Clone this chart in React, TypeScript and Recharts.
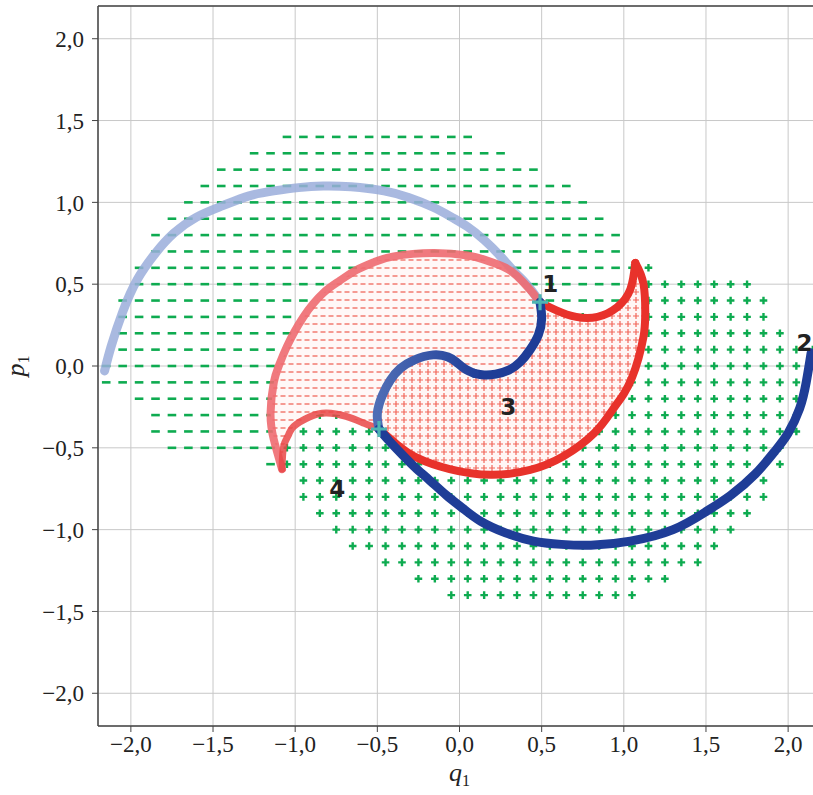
import React from 'react';
import { ComposedChart, XAxis, YAxis, CartesianGrid, Scatter, Line, Area, ReferenceLine, Label } from 'recharts';

const xTicks = [-2, -1.5, -1, -0.5, 0, 0.5, 1, 1.5, 2];
const yTicks = [-2, -1.5, -1, -0.5, 0, 0.5, 1, 1.5, 2];

// green "−" grid, one row per p: [p, first q, last q], step 0.1
const dashRows = [
  [1.4, -1.05, 0.05], [1.3, -1.25, 0.25], [1.2, -1.45, 0.45], [1.1, -1.55, 0.65],
  [1.0, -1.65, 0.75], [0.9, -1.75, 0.85], [0.8, -1.85, 0.95], [0.7, -1.85, 0.95],
  [0.6, -1.95, 0.95], [0.5, -1.95, 0.95], [0.4, -2.05, 0.95], [0.3, -2.05, 0.45],
  [0.2, -2.05, 0.45], [0.1, -2.05, 0.35], [0.0, -2.15, 0.0], [-0.1, -2.15, -0.55],
  [-0.2, -1.95, -0.55], [-0.3, -1.85, -1.15], [-0.4, -1.85, -1.15], [-0.5, -1.75, -1.15],
  [-0.6, -1.15, -1.15],
];

// green "+" grid
const plusRows = [
  [0.6, 1.05, 1.15], [0.5, 1.05, 1.75], [0.4, 1.05, 1.85], [0.3, 0.55, 1.85],
  [0.2, 0.55, 1.95], [0.1, 0.45, 2.15], [0.0, 0.05, 2.15], [-0.1, -0.45, 2.05],
  [-0.2, -0.45, 2.05], [-0.3, -1.05, 2.05], [-0.4, -1.05, 2.05], [-0.5, -1.05, 1.95],
  [-0.6, -1.05, 1.95], [-0.7, -0.95, 1.85], [-0.8, -0.95, 1.85], [-0.9, -0.85, 1.75],
  [-1.0, -0.75, 1.65], [-1.1, -0.65, 1.55], [-1.2, -0.45, 1.45], [-1.3, -0.25, 1.25],
  [-1.4, -0.05, 1.05],
];

// blue trajectory, split by shade
const blueFaint = [
  [-2.16, -0.03], [-2.12, 0.12], [-2.05, 0.33], [-1.96, 0.53], [-1.85, 0.69], [-1.74, 0.81],
  [-1.6, 0.91], [-1.44, 0.98], [-1.28, 1.04], [-1.13, 1.07], [-0.98, 1.09], [-0.83, 1.1],
  [-0.66, 1.095], [-0.46, 1.07], [-0.31, 1.03], [-0.16, 0.97], [-0.04, 0.905], [0.05, 0.85],
  [0.15, 0.77], [0.25, 0.67], [0.33, 0.58], [0.39, 0.52], [0.44, 0.46], [0.49, 0.39],
];
const blueLoopA = [
  [0.49, 0.39], [0.5, 0.29], [0.48, 0.19], [0.43, 0.1], [0.37, 0.025], [0.3, -0.025],
  [0.22, -0.05], [0.15, -0.055], [0.09, -0.045],
];
const blueLoopB = [
  [0.09, -0.045], [0.03, -0.015], [-0.02, 0.025], [-0.07, 0.055], [-0.16, 0.068], [-0.28, 0.035],
  [-0.36, -0.015], [-0.42, -0.085], [-0.47, -0.18], [-0.5, -0.29], [-0.49, -0.385],
];
const blueOuter = [
  [-0.49, -0.385], [-0.43, -0.455], [-0.35, -0.54], [-0.27, -0.62], [-0.18, -0.7], [-0.08, -0.79],
  [0.02, -0.87], [0.13, -0.95], [0.28, -1.02], [0.45, -1.07], [0.62, -1.09], [0.8, -1.095],
  [1.04, -1.07], [1.3, -1.0], [1.5, -0.89], [1.65, -0.79], [1.8, -0.66], [1.92, -0.52],
  [2.0, -0.41], [2.07, -0.26], [2.11, -0.1], [2.14, 0.08],
];

// red boundary of region 3, in order round the loop
const redTop = [
  [0.49, 0.39], [0.43, 0.465], [0.35, 0.55], [0.27, 0.605], [0.15, 0.65], [0.05, 0.675],
  [-0.16, 0.69], [-0.4, 0.67], [-0.52, 0.635], [-0.63, 0.585], [-0.73, 0.52], [-0.83, 0.445],
  [-0.95, 0.3], [-1.05, 0.12], [-1.1, 0.0], [-1.13, -0.1], [-1.15, -0.29], [-1.13, -0.45],
  [-1.08, -0.63],
];
const redLeft = [
  [-1.08, -0.63], [-1.07, -0.49], [-1.04, -0.42], [-1.01, -0.37], [-0.91, -0.31], [-0.81, -0.287],
  [-0.69, -0.308], [-0.58, -0.35], [-0.49, -0.385],
];
const redBottom = [
  [-0.49, -0.385], [-0.38, -0.48], [-0.26, -0.56], [-0.06, -0.63], [0.19, -0.665], [0.43, -0.635],
  [0.63, -0.553], [0.82, -0.41], [0.93, -0.27], [1.0, -0.17], [1.05, -0.07], [1.09, 0.05],
  [1.12, 0.18], [1.13, 0.3], [1.12, 0.5], [1.07, 0.63],
];
const redHook = [
  [1.07, 0.63], [1.04, 0.47], [0.96, 0.36], [0.84, 0.3], [0.71, 0.3], [0.59, 0.34], [0.49, 0.39],
];

// hatched parts of region 3: [q, low p, high p]
const dashHatch = [
  [-1.15, -0.29, -0.29], [-1.13, -0.45, -0.1], [-1.1, -0.54, 0.0], [-1.08, -0.6, 0.04],
  [-1.07, -0.49, 0.06], [-1.04, -0.42, 0.138], [-1.01, -0.37, 0.19], [-0.95, -0.33, 0.3],
  [-0.91, -0.31, 0.35], [-0.83, -0.29, 0.445], [-0.73, -0.3, 0.52], [-0.63, -0.33, 0.585],
  [-0.58, -0.35, 0.61], [-0.52, -0.37, 0.635], [-0.49, -0.385, 0.645], [-0.48, -0.2, 0.648],
  [-0.47, -0.18, 0.65], [-0.42, -0.08, 0.66], [-0.36, -0.01, 0.667], [-0.28, 0.04, 0.68],
  [-0.16, 0.072, 0.69], [-0.07, 0.06, 0.685], [-0.02, 0.025, 0.68], [0.03, -0.015, 0.677],
  [0.09, -0.045, 0.665], [0.15, -0.055, 0.65], [0.22, -0.05, 0.625], [0.3, -0.025, 0.585],
  [0.37, 0.025, 0.535], [0.43, 0.1, 0.465], [0.48, 0.19, 0.41], [0.49, 0.39, 0.39],
];
const plusHatch = [
  [-0.49, -0.385, -0.385], [-0.47, -0.4, -0.18], [-0.42, -0.445, -0.08], [-0.36, -0.495, -0.01],
  [-0.28, -0.547, 0.04], [-0.16, -0.597, 0.072], [-0.07, -0.627, 0.06], [-0.02, -0.637, 0.025],
  [0.03, -0.645, -0.015], [0.09, -0.655, -0.045], [0.15, -0.66, -0.055], [0.22, -0.662, -0.05],
  [0.3, -0.652, -0.025], [0.37, -0.643, 0.025], [0.43, -0.635, 0.1], [0.48, -0.615, 0.19],
  [0.5, -0.606, 0.385], [0.59, -0.569, 0.34], [0.71, -0.493, 0.3], [0.84, -0.385, 0.3],
  [0.93, -0.27, 0.345], [0.96, -0.227, 0.36], [1.0, -0.17, 0.415], [1.04, -0.09, 0.47],
  [1.07, -0.04, 0.6], [1.09, 0.05, 0.578], [1.12, 0.18, 0.5], [1.13, 0.3, 0.3],
];

const startPoints = [[0.49, 0.39], [-0.49, -0.385]];
const regionLabels = [
  { q: 0.552, p: 0.5, t: '1' },
  { q: 2.1, p: 0.14, t: '2' },
  { q: 0.296, p: -0.248, t: '3' },
  { q: -0.744, p: -0.751, t: '4' },
];

const GREEN = '#0eab50';

const toPts = (arr: number[][]) => arr.map(([q, p]) => ({ q, p }));
const toRange = (arr: number[][]) => arr.map(([q, lo, hi]) => ({ q, r: [lo, hi] }));

const loop = [...redTop, ...redLeft, ...redBottom, ...redHook];
const inside = (q: number, p: number) => {
  let c = false;
  for (let i = 0, j = loop.length - 1; i < loop.length; j = i++) {
    const [xi, yi] = loop[i];
    const [xj, yj] = loop[j];
    if (yi > p !== yj > p && q < ((xj - xi) * (p - yi)) / (yj - yi) + xi) c = !c;
  }
  return c;
};
const expandRows = (rows: number[][]) => {
  const out: { q: number; p: number }[] = [];
  rows.forEach(([p, a, b]) => {
    const n = Math.round((b - a) / 0.1);
    for (let i = 0; i <= n; i++) {
      const q = Math.round((a + i * 0.1) * 100) / 100;
      if (!inside(q, p)) out.push({ q, p });
    }
  });
  return out;
};
const dashPts = expandRows(dashRows);
const plusPts = expandRows(plusRows);

const fmt = (v: number) => (v < 0 ? '\u2212' : '') + Math.abs(v).toFixed(1).replace('.', ',');

const DashMark = (props: any) => (
  <line x1={props.cx - 4.3} x2={props.cx + 4.3} y1={props.cy} y2={props.cy} stroke={GREEN} strokeWidth={2.6} />
);
const PlusMark = (props: any) => (
  <path d={`M${props.cx - 3.8},${props.cy}H${props.cx + 3.8}M${props.cx},${props.cy - 3.8}V${props.cy + 3.8}`} stroke={GREEN} strokeWidth={2.4} fill="none" />
);
const StartMark = (props: any) => (
  <path d={`M${props.cx - 8},${props.cy}H${props.cx + 8}M${props.cx},${props.cy - 8}V${props.cy + 8}`} stroke="#4db5b3" strokeWidth={3.2} fill="none" />
);
const RegionText = (props: any) => (
  <text x={props.cx} y={props.cy} textAnchor="middle" dominantBaseline="central" fontFamily="DejaVu Sans" fontWeight="bold" fontSize={23} fill="#222">
    {props.payload.t}
  </text>
);

const tickStyle = { fontFamily: 'Liberation Serif', fontSize: 23, fill: '#222' };

const XTitle = (props: any) => {
  const { x, y, width } = props.viewBox;
  return (
    <text x={x + width / 2} y={y + 55} textAnchor="middle" fontFamily="Liberation Serif" fontSize={26} fill="#222">
      <tspan fontStyle="italic">q</tspan>
      <tspan fontSize={16} dy={5}>1</tspan>
    </text>
  );
};
const YTitle = (props: any) => {
  const { y, height } = props.viewBox;
  const cy = y + height / 2;
  return (
    <text transform={`translate(24,${cy}) rotate(-90)`} textAnchor="middle" fontFamily="Liberation Serif" fontSize={26} fill="#222">
      <tspan fontStyle="italic">p</tspan>
      <tspan fontSize={16} dy={5}>1</tspan>
    </text>
  );
};

const curve = (data: number[][], color: string, width: number, opacity = 1, key?: string) => (
  <Line
    key={key}
    data={toPts(data)}
    dataKey="p"
    type="natural"
    stroke={color}
    strokeWidth={width}
    strokeOpacity={opacity}
    strokeLinecap="round"
    dot={false}
    activeDot={false}
    isAnimationActive={false}
  />
);

export default function App() {
  return (
    <div style={{ position: 'absolute', left: 0, top: 0, width: 813, height: 795, overflow: 'hidden', background: '#fff' }}>
      <ComposedChart width={830} height={795} margin={{ top: 6, right: 9, left: 0, bottom: 0 }}>
        <defs>
          <pattern id="hatchDash" patternUnits="userSpaceOnUse" width="8" height="8">
            <rect width="8" height="8" fill="#fff8f7" />
            <line x1="0.5" y1="4" x2="5.5" y2="4" stroke="#f27a70" strokeWidth="1.5" />
          </pattern>
          <pattern id="hatchPlus" patternUnits="userSpaceOnUse" width="8" height="8">
            <rect width="8" height="8" fill="#fff6f5" />
            <path d="M1,4H7M4,1V7" stroke="#f2665a" strokeWidth="1.2" fill="none" />
          </pattern>
          <linearGradient id="loopShade" x1="0" y1="0" x2="1" y2="0">
            <stop offset="0%" stopColor="#4f6db5" />
            <stop offset="100%" stopColor="#23419a" />
          </linearGradient>
        </defs>
        <CartesianGrid stroke="#c8c8c8" strokeWidth={1} />
        <XAxis
          type="number"
          dataKey="q"
          domain={[-2.2, 2.2]}
          allowDataOverflow
          ticks={xTicks}
          tickFormatter={fmt}
          tick={tickStyle}
          tickSize={6}
          tickMargin={4}
          height={69}
          axisLine={{ stroke: '#444', strokeWidth: 1.5 }}
          tickLine={{ stroke: '#444' }}
        >
          <Label content={XTitle} />
        </XAxis>
        <YAxis
          type="number"
          dataKey="p"
          domain={[-2.2, 2.2]}
          allowDataOverflow
          ticks={yTicks}
          tickFormatter={fmt}
          tick={tickStyle}
          tickSize={6}
          tickMargin={8}
          width={98}
          axisLine={{ stroke: '#444', strokeWidth: 1.5 }}
          tickLine={{ stroke: '#444' }}
        >
          <Label content={YTitle} />
        </YAxis>
        <ReferenceLine y={2.2} stroke="#444" strokeWidth={1.5} />

        <Scatter data={dashPts} shape={DashMark} isAnimationActive={false} zIndex={50} />
        <Scatter data={plusPts} shape={PlusMark} isAnimationActive={false} zIndex={50} />

        <Area data={toRange(dashHatch)} dataKey="r" type="linear" stroke="none" fill="url(#hatchDash)" fillOpacity={1} isAnimationActive={false} activeDot={false} />
        <Area data={toRange(plusHatch)} dataKey="r" type="linear" stroke="none" fill="url(#hatchPlus)" fillOpacity={1} isAnimationActive={false} activeDot={false} />

        {curve(blueFaint, '#9aaddb', 9, 0.85, 'b1')}
        {curve(redTop, '#ee6a70', 8, 0.9, 'r1')}
        {curve(redLeft, '#e94646', 7, 0.85, 'r2')}
        {curve(redBottom, '#e8322b', 8, 1, 'r3')}
        {curve(redHook, '#e8322b', 8, 1, 'r4')}
        {curve(blueLoopA, '#1f3d97', 9, 1, 'b2')}
        {curve(blueLoopB, 'url(#loopShade)', 9, 1, 'b3')}
        {curve(blueOuter, '#1f3d97', 9, 1, 'b4')}

        <Scatter data={toPts(startPoints)} shape={StartMark} isAnimationActive={false} />
        <Scatter data={regionLabels} shape={RegionText} isAnimationActive={false} />
      </ComposedChart>
    </div>
  );
}
